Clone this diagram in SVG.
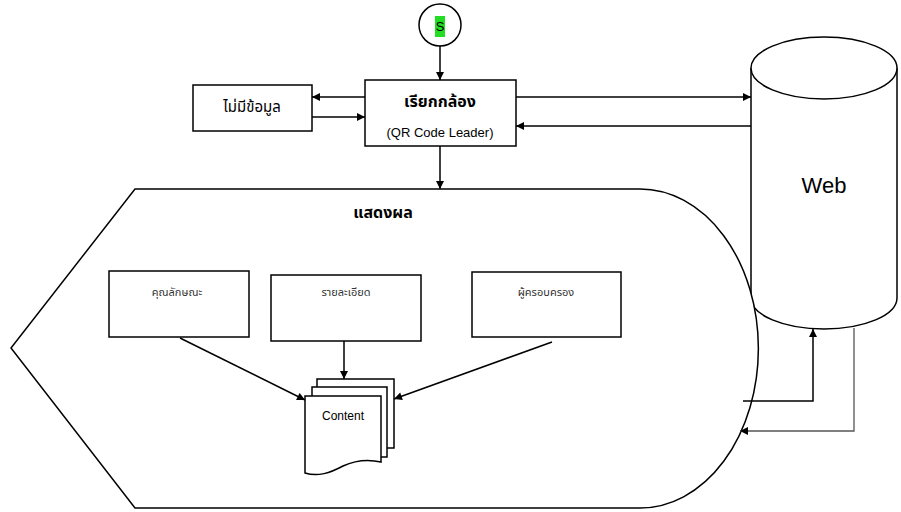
<svg xmlns="http://www.w3.org/2000/svg" width="901" height="512" viewBox="0 0 901 512">
<defs>
<marker id="ah" viewBox="0 0 10 10" refX="10" refY="5" markerWidth="10" markerHeight="8" markerUnits="userSpaceOnUse" orient="auto">
<path d="M0,0 L10,5 L0,10 Z" fill="#000"/>
</marker>
</defs>
<style>
.s{fill:#fff;stroke:#000;stroke-width:1.5}
.c{fill:none;stroke:#000;stroke-width:1.5}
.g{fill:none;stroke:#555;stroke-width:1.3}
.t{font-family:"Liberation Sans","Noto Sans Thai",sans-serif;fill:#000;text-anchor:middle}
.b{font-weight:bold;font-size:16px}
.sm{font-size:11px;fill:#333}
</style>
<rect width="901" height="512" fill="#fff"/>
<g id="web">
<path class="s" d="M751,68 L751,298 A73,31 0 0 0 897,298 L897,68"/>
<ellipse class="s" cx="824" cy="68" rx="73" ry="31"/>
<text class="t" x="824" y="193" font-size="22">Web</text>
</g>
<g id="display">
<path class="s" d="M135,189 L640,189 A118,159 0 0 1 640,508 L135,508 L11,348 Z"/>
<text class="t b" x="383" y="218">แสดงผล</text>
</g>
<g id="start">
<circle class="s" cx="440" cy="25" r="21"/>
<rect x="435" y="16" width="10" height="21" fill="#22dd22"/>
<text class="t" x="440" y="31" font-size="13" fill="#333">S</text>
</g>
<g id="camera">
<rect class="s" x="365" y="80" width="151" height="66"/>
<text class="t b" x="440" y="107">เรียกกล้อง</text>
<text class="t" x="440" y="137" font-size="13">(QR Code Leader)</text>
</g>
<g id="nodata">
<rect class="s" x="193" y="85" width="119" height="46"/>
<text class="t" x="252" y="112" font-size="15">ไม่มีข้อมูล</text>
</g>
<g id="attr">
<rect class="s" x="109" y="271" width="140" height="66"/>
<text class="t sm" x="177" y="296">คุณลักษณะ</text>
</g>
<g id="detail">
<rect class="s" x="271" y="275" width="150" height="66"/>
<text class="t sm" x="346" y="296">รายละเอียด</text>
</g>
<g id="owner">
<rect class="s" x="472" y="272" width="149" height="65"/>
<text class="t sm" x="546" y="296">ผู้ครอบครอง</text>
</g>
<g id="content">
<path class="s" d="M317,379 L394,379 L394,448 L317,448 Z"/>
<path class="s" d="M312,387 L387,387 L387,457 L312,457 Z"/>
<path class="s" d="M305,396 L381,396 L381,462 C368,459 356,460 343,466 C330,473 318,477 305,473 Z"/>
<text class="t" x="343" y="420" font-size="12" fill="#222">Content</text>
</g>
<g id="connectors">
<line class="c" x1="440" y1="46" x2="440" y2="80" marker-end="url(#ah)"/>
<line class="c" x1="365" y1="97" x2="312" y2="97" marker-end="url(#ah)"/>
<line class="c" x1="312" y1="117" x2="365" y2="117" marker-end="url(#ah)"/>
<line class="c" x1="516" y1="97" x2="751" y2="97" marker-end="url(#ah)"/>
<line class="c" x1="751" y1="126" x2="516" y2="126" marker-end="url(#ah)"/>
<line class="c" x1="440" y1="146" x2="440" y2="189" marker-end="url(#ah)"/>
<line class="c" x1="180" y1="338" x2="305" y2="400" marker-end="url(#ah)"/>
<line class="c" x1="344" y1="341" x2="344" y2="379" marker-end="url(#ah)"/>
<line class="c" x1="552" y1="342" x2="394" y2="399" marker-end="url(#ah)"/>
<polyline class="c" points="743,401 813,401 813,329" marker-end="url(#ah)"/>
<polyline class="g" points="854,328 854,431 740,431" marker-end="url(#ah)"/>
</g>
</svg>
